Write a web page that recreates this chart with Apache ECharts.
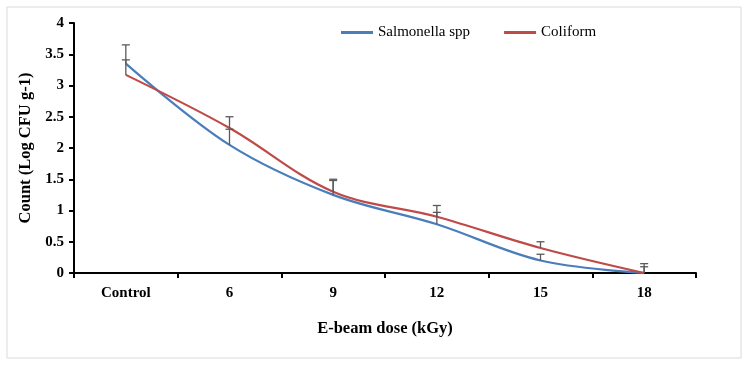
<!DOCTYPE html>
<html>
<head>
<meta charset="utf-8">
<script src="https://cdn.jsdelivr.net/npm/echarts@6/dist/echarts.min.js"></script>
<style>
    html, body { margin: 0; padding: 0; background: #fff; }
    #chart { width: 747px; height: 365px; }
</style>
</head>
<body>
<div id="chart"></div>
<script>
    var categories = ['Control', '6', '9', '12', '15', '18'];
    var salmonella = [3.35, 2.05, 1.25, 0.78, 0.2, 0.0];
    var coliform = [3.17, 2.32, 1.3, 0.9, 0.4, 0.0];
    // top of each error bar (one-sided, upward)
    var salmonellaErrTop = [3.65, 2.3, 1.48, 0.97, 0.3, 0.1];
    var coliformErrTop = [3.41, 2.5, 1.5, 1.08, 0.5, 0.15];
    var yTicks = [0, 0.5, 1, 1.5, 2, 2.5, 3, 3.5, 4];

    var serif = '"Liberation Serif", "Times New Roman", serif';

    function errData(values, tops) {
        var out = [];
        for (var i = 0; i < values.length; i++) {
            out.push([i, values[i], tops[i]]);
        }
        return out;
    }

    function renderErr(params, api) {
        var low = api.coord([api.value(0), api.value(1)]);
        var high = api.coord([api.value(0), api.value(2)]);
        var half = 4;
        var style = { stroke: '#5a5a5a', lineWidth: 1.3 };
        return {
            type: 'group',
            children: [
                { type: 'line', shape: { x1: low[0], y1: low[1], x2: high[0], y2: high[1] }, style: style },
                { type: 'line', shape: { x1: high[0] - half, y1: high[1], x2: high[0] + half, y2: high[1] }, style: style }
            ]
        };
    }

    var myChart = echarts.init(document.getElementById('chart'));
    var option = {
        backgroundColor: '#fff',
        animation: false,
        textStyle: { fontFamily: serif },
        graphic: [{
            type: 'rect',
            shape: { x: 7, y: 7, width: 734, height: 351 },
            style: { fill: 'none', stroke: '#d9d9d9', lineWidth: 1 },
            silent: true
        }],
        legend: {
            top: 20,
            left: 336,
            itemGap: 34,
            itemWidth: 32,
            itemHeight: 3,
            icon: 'rect',
            textStyle: { fontFamily: serif, fontSize: 15, color: '#000' },
            data: ['Salmonella spp', 'Coliform']
        },
        grid: { left: 74, right: 51, top: 23, bottom: 92 },
        xAxis: {
            type: 'category',
            data: categories,
            boundaryGap: true,
            name: 'E-beam dose (kGy)',
            nameLocation: 'middle',
            nameGap: 47,
            nameTextStyle: { fontFamily: serif, fontSize: 16.5, fontWeight: 'bold', color: '#000' },
            axisLine: { lineStyle: { color: '#000', width: 2 } },
            axisTick: { show: true, length: 5, lineStyle: { color: '#000', width: 2 } },
            axisLabel: { fontFamily: serif, fontSize: 15, fontWeight: 'bold', color: '#000', margin: 13 }
        },
        yAxis: {
            type: 'value',
            min: yTicks[0],
            max: yTicks[yTicks.length - 1],
            interval: 0.5,
            name: 'Count (Log CFU g-1)',
            nameLocation: 'middle',
            nameGap: 40,
            nameTextStyle: { fontFamily: serif, fontSize: 16.5, fontWeight: 'bold', color: '#000' },
            axisLine: { show: true, lineStyle: { color: '#000', width: 2 } },
            axisTick: { show: true, length: 5, lineStyle: { color: '#000', width: 2 } },
            axisLabel: { fontFamily: serif, fontSize: 15, fontWeight: 'bold', color: '#000', margin: 10 },
            splitLine: { show: false }
        },
        series: [
            {
                name: 'Salmonella spp',
                type: 'line',
                smooth: 0.35,
                symbol: 'none',
                color: '#4a7ebb',
                lineStyle: { width: 2.2, color: '#4a7ebb' },
                data: salmonella,
                z: 3
            },
            {
                name: 'Coliform',
                type: 'line',
                smooth: 0.35,
                symbol: 'none',
                color: '#be4b48',
                lineStyle: { width: 2.2, color: '#be4b48' },
                data: coliform,
                z: 3
            },
            {
                name: 'salErr',
                type: 'custom',
                renderItem: renderErr,
                data: errData(salmonella, salmonellaErrTop),
                encode: { x: 0, y: [1, 2] },
                z: 4
            },
            {
                name: 'colErr',
                type: 'custom',
                renderItem: renderErr,
                data: errData(coliform, coliformErrTop),
                encode: { x: 0, y: [1, 2] },
                z: 4
            }
        ]
    };
    myChart.setOption(option);
</script>
</body>
</html>
